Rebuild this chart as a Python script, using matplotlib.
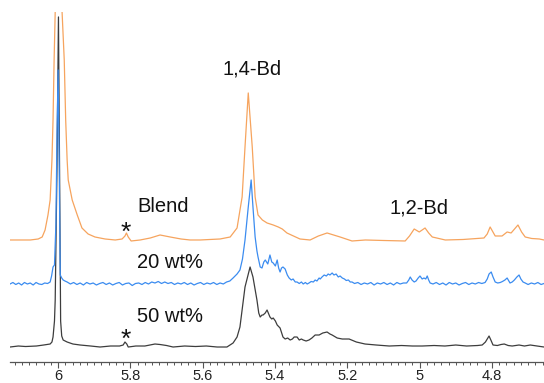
import matplotlib
matplotlib.use('Agg')
import matplotlib.pyplot as plt
import numpy as np
from matplotlib.ticker import MultipleLocator, FuncFormatter

# traced spectra: chemical shift (ppm) and intensity above each trace's baseline
blend_ppm = [6.133, 6.077, 6.055, 6.044, 6.036, 6.028, 6.022, 6.017, 6.014, 6.011,
             6.008, 5.999, 5.989, 5.983, 5.979, 5.975, 5.972, 5.961, 5.947, 5.934,
             5.917, 5.898, 5.870, 5.842, 5.823, 5.815, 5.811, 5.806, 5.798, 5.773,
             5.745, 5.718, 5.690, 5.660, 5.635, 5.607, 5.580, 5.552, 5.524, 5.505,
             5.491, 5.483, 5.474, 5.463, 5.455, 5.447, 5.435, 5.422, 5.405, 5.391,
             5.380, 5.367, 5.331, 5.303, 5.280, 5.256, 5.238, 5.220, 5.187, 5.150,
             5.100, 5.040, 5.028, 5.015, 5.001, 4.985, 4.975, 4.965, 4.929, 4.880,
             4.822, 4.813, 4.805, 4.791, 4.772, 4.758, 4.747, 4.728, 4.718, 4.708,
             4.690, 4.669, 4.656]
blend_int = [0, 0, 1, 3, 10, 25, 40, 80, 120, 180,
             228, 600, 228, 180, 120, 80, 60, 40, 25, 12,
             6, 3, 1, 0, 1, 4, 7, 3, -1, 0,
             2, 5, 3, 1, 0, 0, 0.5, 1, 3, 12,
             43, 93, 147, 93, 43, 25, 20, 17, 15, 13,
             11, 7, 1, 0, 4, 7, 5, 3, -1, 0,
             -0.5, -1, 4, 11, 8, 12, 7, 3, 0, 0.5,
             2, 6, 13, 4, 4, 8, 7, 15, 8, 3,
             1.5, 1, 0]

wt20_ppm = [6.133, 6.125, 6.117, 6.109, 6.101, 6.093, 6.085, 6.077, 6.069, 6.061,
            6.053, 6.045, 6.037, 6.029, 6.022,
            6.018, 6.014, 6.010, 6.006, 6.003, 6.000, 5.997, 5.994, 5.990, 5.986, 5.981,
            5.975, 5.966, 5.957, 5.948, 5.939, 5.930, 5.921, 5.912, 5.903, 5.894,
            5.885, 5.876, 5.867, 5.858, 5.849, 5.840, 5.831, 5.822, 5.813, 5.804,
            5.795, 5.786, 5.777, 5.768, 5.759, 5.750, 5.741, 5.732, 5.723, 5.714,
            5.705, 5.696, 5.687, 5.678, 5.669, 5.660, 5.651, 5.642, 5.633, 5.624,
            5.615, 5.606, 5.597, 5.588, 5.579, 5.570, 5.561, 5.552, 5.543, 5.534, 5.525,
            5.516, 5.505, 5.497, 5.490, 5.483, 5.474, 5.466, 5.461, 5.455, 5.450,
            5.447, 5.441, 5.436, 5.431, 5.427, 5.420, 5.414, 5.409, 5.405, 5.399,
            5.394, 5.390, 5.386, 5.382, 5.378, 5.372, 5.366, 5.361, 5.355, 5.350,
            5.344, 5.339, 5.333, 5.327, 5.322, 5.316, 5.311, 5.306, 5.300, 5.294,
            5.289, 5.284, 5.278, 5.275, 5.270, 5.264, 5.258, 5.253, 5.248, 5.242,
            5.237, 5.231, 5.225, 5.220, 5.214, 5.208, 5.203, 5.197, 5.192, 5.187,
            5.180, 5.171, 5.162, 5.153, 5.144, 5.135, 5.126, 5.117, 5.108, 5.099,
            5.090, 5.081, 5.072, 5.063, 5.054, 5.045,
            5.036, 5.030, 5.026, 5.021, 5.015, 5.010, 5.004, 4.999, 4.993, 4.988,
            4.983, 4.979, 4.975, 4.971,
            4.963, 4.954, 4.945, 4.936, 4.927, 4.918, 4.909, 4.900, 4.891, 4.882,
            4.873, 4.864, 4.855, 4.846, 4.837, 4.828,
            4.819, 4.813, 4.808, 4.802, 4.797, 4.791, 4.784, 4.777, 4.771, 4.764,
            4.758, 4.753, 4.750, 4.744, 4.738, 4.731, 4.725, 4.720, 4.714, 4.708,
            4.700, 4.691, 4.682, 4.673, 4.664, 4.656]
wt20_int = [0, 1.5, -0.5, 1, -1, 1.5, 0, 1, -1, 1.5,
            0, -0.5, 1, 0.5, 2,
            8, 17, 19, 60, 150, 214, 120, 9, 6, 4, 3,
            2, 0, 1.5, -0.5, 1, -1, 1.5, 0, 1, -1,
            0.5, 1.5, -0.5, 1, -1, 0.5, 1.5, -1, 0.5, 1,
            -1.5, 0.5, 1, -0.5, 1.5, 0, 2, 1, 2.5, 0.5,
            2, 0.5, 1.5, -0.5, 1, 0, 1.5, -0.5, 1, -1,
            0.5, 1.5, -0.5, 1, 0, 1.5, -0.5, 1, 0, 2, 3,
            6, 10, 14, 25, 44, 77, 104, 77, 47, 33,
            27, 17, 16, 22, 24, 20, 29, 22, 21, 18,
            24, 16, 12, 16, 17, 15, 9, 6, 4, 5,
            2, 2, 0.5, 2, 0, 1.5, 0, 1, 2.5, 2,
            4, 3, 6, 5, 7, 9, 8, 10, 9, 11,
            9, 10, 7, 8, 6, 5, 3.5, 4, 2, 2,
            0.5, 1.5, -0.5, 1, 0, 1.5, -1, 1, 0, 1.5,
            -0.5, 1, -1, 1.5, 0, 1,
            1, 4, 7, 4, 2, 3, 6, 8, 5, 6,
            5, 8, 4, 1,
            0, 1.5, -0.5, 1, -1, 1.5, 0, 1, -1, 0.5,
            1.5, -0.5, 1, 0, 1.5, 0.5,
            1.5, 5, 10, 12, 7, 2, 1, 1.5, 2.5, 4,
            6, 3, 1, 2, 4, 7, 9, 5, 2, 1,
            -0.5, 1, 0, 1.5, -0.5, 0.5]

wt50_ppm = [6.133, 6.110, 6.090, 6.060, 6.040, 6.022, 6.017, 6.014, 6.010, 6.008,
            6.003, 5.999, 5.996, 5.993, 5.990, 5.986, 5.975, 5.959, 5.939, 5.910,
            5.884, 5.855, 5.830, 5.820, 5.815, 5.810, 5.806, 5.785, 5.760, 5.732,
            5.718, 5.700, 5.682, 5.650, 5.620, 5.590, 5.560, 5.533, 5.516, 5.505,
            5.497, 5.483, 5.469, 5.461, 5.450, 5.445, 5.441, 5.436, 5.433, 5.427,
            5.422, 5.414, 5.409, 5.405, 5.399, 5.394, 5.386, 5.378, 5.372, 5.365,
            5.358, 5.352, 5.347, 5.339, 5.333, 5.327, 5.322, 5.314, 5.306, 5.298,
            5.289, 5.278, 5.268, 5.256, 5.248, 5.242, 5.228, 5.214, 5.195, 5.175,
            5.151, 5.120, 5.084, 5.050, 5.020, 4.993, 4.960, 4.930, 4.900, 4.870,
            4.840, 4.827, 4.818, 4.808, 4.803, 4.797, 4.785, 4.775, 4.766, 4.755,
            4.744, 4.725, 4.710, 4.694, 4.675, 4.656]
wt50_int = [-1, 0, -0.5, 0, 1, 2, 4, 9, 25, 46,
            180, 329, 180, 25, 10, 6, 4, 2, 1, 0,
            -1, 0, 0, 1, 4, 2, -1, 0, 0, 2,
            1.5, 0.5, -1, 0, -0.5, 0, -1, -1, 3, 9,
            19, 59, 79, 69, 46, 33, 29, 31, 31, 33,
            36, 29, 27, 28, 25, 21, 18, 9, 7, 8,
            6, 7, 9, 9, 6, 7, 6, 5, 6, 8,
            11, 11, 13, 14, 12, 11, 8, 7, 7, 4,
            2, 1, 0, 0.5, 0, 0, 0.5, 0, 1, 0,
            0.5, 1, 4, 10, 6, 1, 0.5, 1.5, 2, 0.5,
            0, 1, 0, 1, 0, -1]

tick_values = [6.0, 5.8, 5.6, 5.4, 5.2, 5.0, 4.8]

plt.rcParams['font.family'] = ['Liberation Sans', 'DejaVu Sans']

fig = plt.figure(figsize=(5.44, 3.83), dpi=100)
ax = fig.add_axes([0.0184, 0.0548, 0.9816, 0.914])

ax.plot(wt50_ppm, np.array(wt50_int) + 16, color='#3d3d3d', linewidth=0.9, zorder=2)
ax.plot(wt20_ppm, np.array(wt20_int) + 78, color='#3b8cf0', linewidth=0.9, zorder=3)
ax.plot(blend_ppm, np.array(blend_int) + 122, color='#f6a45e', linewidth=0.9, zorder=4)

ax.set_xlim(6.133, 4.656)
ax.set_ylim(0, 350)

for side in ['left', 'right', 'top']:
    ax.spines[side].set_visible(False)
ax.spines['bottom'].set_color('#555555')
ax.spines['bottom'].set_linewidth(0.9)
ax.set_yticks([])

ax.set_xticks(tick_values)
ax.xaxis.set_major_formatter(FuncFormatter(lambda v, p: f'{v:g}'))
ax.xaxis.set_minor_locator(MultipleLocator(0.02))
ax.tick_params(axis='x', which='major', direction='out', length=4, width=0.8,
               color='#555555', labelsize=10.5, labelcolor='#222222', pad=1)
ax.tick_params(axis='x', which='minor', direction='out', length=2.5, width=0.7,
               color='#555555')

ax.text(5.463, 293, '1,4-Bd', ha='center', va='center', fontsize=14.5, color='#111111')
ax.text(5.001, 154, '1,2-Bd', ha='center', va='center', fontsize=14.5, color='#111111')
ax.text(5.710, 155, 'Blend', ha='center', va='center', fontsize=14.5, color='#111111')
ax.text(5.690, 99, '20 wt%', ha='center', va='center', fontsize=14.5, color='#111111')
ax.text(5.690, 46, '50 wt%', ha='center', va='center', fontsize=14.5, color='#111111')
ax.text(5.812, 129, '*', ha='center', va='center', fontsize=19, color='#111111')
ax.text(5.812, 22, '*', ha='center', va='center', fontsize=19, color='#111111')

plt.savefig('out.png', dpi=100)
